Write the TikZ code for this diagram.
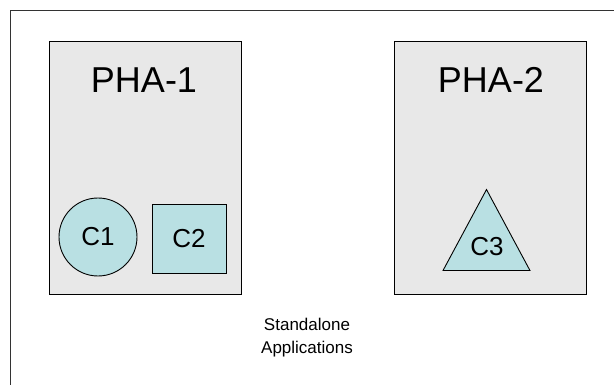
\documentclass[tikz,border=0pt]{standalone}
\usepackage{fontspec}
\setmainfont{Liberation Sans}
\usepackage{xcolor}
\usepackage{tikz}
\usetikzlibrary{shapes,shapes.geometric,positioning}
\definecolor{phagray}{RGB}{232,232,232}
\definecolor{comptea}{RGB}{185,224,227}
\tikzset{
  pha_box/.style = {draw=black, fill=phagray, line width=1pt, minimum width=192pt, minimum height=253pt, inner sep=0pt},
  pha_txt/.style = {font=\fontsize{36}{40}\selectfont, inner sep=0pt},
  comp/.style = {draw=black, fill=comptea, line width=0.9pt, inner sep=0pt, font=\fontsize{26}{30}\selectfont},
  comp_c/.style = {comp, circle, minimum size=78pt},
  comp_s/.style = {comp, rectangle, minimum width=74pt, minimum height=69pt},
  comp_t/.style = {comp, isosceles triangle, shape border rotate=90, isosceles triangle stretches, minimum width=87pt, minimum height=81pt}
}
\begin{document}
\begin{tikzpicture}[x=1pt,y=-1pt]
\useasboundingbox (0,0) rectangle (614,385);
% outer frame
\draw[draw=black!80, line width=0.9pt] (10,400) -- (10,10) -- (630,10);
% the two PHAs
\node[pha_box] (pha1) at (145,168.5) {};
\node[pha_box] (pha2) at (490.5,168.5) {};
\node[pha_txt] (pha1t) at (144,80) {PHA-1};
\node[pha_txt] (pha2t) at (491,80) {PHA-2};
% components
\node[comp_c] (c1) at (98,237) {C1};
\node[comp_s] (c2) at (189,238.5) {C2};
\node[comp_t, anchor=south] (c3) at (486.5,271) {};
\node[font=\fontsize{26}{30}\selectfont, inner sep=0pt] (c3t) at (487,247) {C3};
\node[align=center, font=\fontsize{17}{23}\selectfont] (apps) at (307,338) {Standalone\\Applications};
\end{tikzpicture}
\end{document}
